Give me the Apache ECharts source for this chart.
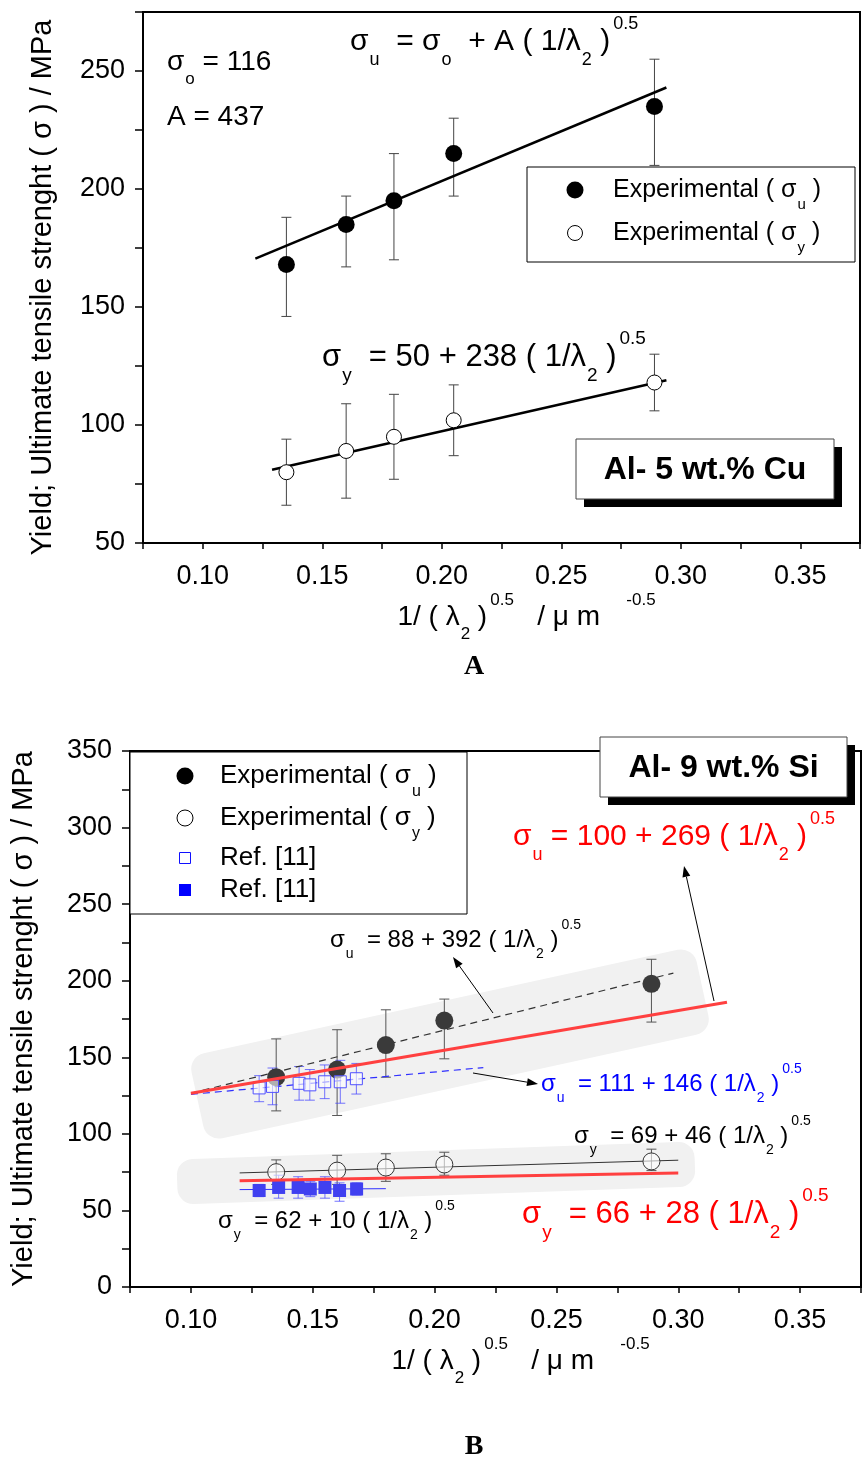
<!DOCTYPE html>
<html><head><meta charset="utf-8">
<script src="https://cdn.jsdelivr.net/npm/echarts@6/dist/echarts.min.js"></script>
<style>html,body{margin:0;padding:0;background:#fff}#c{width:864px;height:1463px}</style>
</head><body><div id="c"></div>
<script>
// ---------------- Panel A : Al- 5 wt.% Cu ----------------
const aX       = [0.135, 0.160, 0.180, 0.205, 0.289];
const aUlt     = [168, 185, 195, 215, 235];
const aUltLow  = [146, 167, 170, 197, 210];
const aUltHigh = [188, 197, 215, 230, 255];
const aYld     = [80, 89, 95, 102, 118];
const aYldLow  = [66, 69, 77, 87, 106];
const aYldHigh = [94, 109, 113, 117, 130];
const aUltFitX = [0.122, 0.294];
const aUltFitY = [170.5, 243];
const aYldFitX = [0.129, 0.294];
const aYldFitY = [81, 119];

// ---------------- Panel B : Al- 9 wt.% Si ----------------
const bX       = [0.135, 0.160, 0.180, 0.204, 0.289];
const bUlt     = [137, 142, 158, 174, 198];
const bUltLow  = [115, 112, 137, 149, 173];
const bUltHigh = [162, 168, 181, 188, 214];
const bYld     = [75, 76, 78, 80, 82];
const bYldLow  = [67, 67, 69, 73, 76];
const bYldHigh = [83, 86, 87, 88, 90];
const refUltX    = [0.128, 0.1335, 0.1444, 0.1488, 0.1549, 0.1613, 0.1679];
const refUlt     = [130, 131, 133, 132, 134, 134, 136];
const refUltLow  = [121, 119, 122, 122, 123, 120, 126];
const refUltHigh = [138, 143, 144, 142, 145, 148, 146];
const refYldX    = [0.128, 0.136, 0.144, 0.149, 0.155, 0.161, 0.168];
const refYld     = [63, 65, 65, 64, 65, 63, 64];
const refYldLow  = [59, 58, 58, 59, 58, 56, 60];
const refYldHigh = [67, 73, 72, 69, 72, 68, 68];
const expUltFitX = [0.100, 0.298]; const expUltFitY = [126.5, 205];
const redUltFitX = [0.100, 0.320]; const redUltFitY = [126.5, 186];
const refUltFitX = [0.100, 0.220]; const refUltFitY = [125.8, 143.3];
const expYldFitX = [0.120, 0.300]; const expYldFitY = [74.5, 82.8];
const redYldFitX = [0.120, 0.300]; const redYldFitY = [69.4, 74.4];
const refYldFitX = [0.120, 0.180]; const refYldFitY = [63.6, 64.2];

// ---------------- tick labels ----------------
const xLabelValues = [0.10, 0.15, 0.20, 0.25, 0.30, 0.35];
const yLabelValuesA = [50, 100, 150, 200, 250];
const yLabelValuesB = [0, 50, 100, 150, 200, 250, 300, 350];

const FONT = 'Liberation Sans';
const pts = (xs, ys) => xs.map((x, i) => [x, ys[i]]);
const errs = (xs, lo, hi) => xs.map((x, i) => [x, lo[i], hi[i]]);

function rich(size, color, fam) {
  fam = fam || FONT;
  const lh = Math.round(size * 1.3);
  const s = Math.round(size * 0.6);
  const pad = Math.round(size * 1.2);
  return {
    m:  {fontSize: size, fontFamily: fam, color: color, fill: color, lineHeight: lh, verticalAlign: 'middle'},
    sb: {fontSize: s, fontFamily: fam, color: color, fill: color, lineHeight: lh, verticalAlign: 'middle', padding: [pad, 0, 0, 1]},
    sp: {fontSize: s, fontFamily: fam, color: color, fill: color, lineHeight: lh, verticalAlign: 'middle', padding: [0, 0, pad, 3]}
  };
}

function errSeries(gi, xs, lo, hi, color, width, cap, z) {
  return {
    type: 'custom', xAxisIndex: gi, yAxisIndex: gi, z: z || 3, silent: true,
    data: errs(xs, lo, hi), encode: {x: 0, y: [1, 2]},
    renderItem: (p, api) => {
      const x = api.value(0);
      const a = api.coord([x, api.value(1)]), b = api.coord([x, api.value(2)]);
      const st = {stroke: color, lineWidth: width};
      return {type: 'group', children: [
        {type: 'line', shape: {x1: a[0], y1: a[1], x2: b[0], y2: b[1]}, style: st},
        {type: 'line', shape: {x1: a[0] - cap, y1: a[1], x2: a[0] + cap, y2: a[1]}, style: st},
        {type: 'line', shape: {x1: b[0] - cap, y1: b[1], x2: b[0] + cap, y2: b[1]}, style: st}
      ]};
    }
  };
}
function fitSeries(gi, xs, ys, color, width, type, z) {
  return {type: 'line', xAxisIndex: gi, yAxisIndex: gi, data: pts(xs, ys), symbol: 'none', silent: true,
    z: z || 3, lineStyle: {color: color, width: width, type: type || 'solid'}};
}
function dotSeries(gi, name, xs, ys, symbol, size, fill, border, bw, z) {
  return {type: 'scatter', name: name, xAxisIndex: gi, yAxisIndex: gi, data: pts(xs, ys), symbol: symbol,
    symbolSize: size, z: z || 4, itemStyle: {color: fill, borderColor: border, borderWidth: bw, opacity: 1}};
}

const xName = '{m|1/ ( λ}{sb|2}{m| )}{sp|0.5}{m|   / μ m   }{sp|-0.5}';
function xAx(gi) {
  return {type: 'value', gridIndex: gi, min: 0.075, max: 0.375, interval: 0.025,
    axisLine: {onZero: false, lineStyle: {color: '#000', width: 2}},
    axisTick: {length: 6, lineStyle: {color: '#000', width: 1.5}},
    axisLabel: {margin: 20, fontSize: 27, color: '#000', fontFamily: FONT,
      formatter: v => xLabelValues.some(t => Math.abs(t - v) < 1e-6) ? v.toFixed(2) : ''},
    splitLine: {show: false},
    name: xName, nameLocation: 'middle', nameGap: 56,
    nameTextStyle: {rich: rich(28, '#000'), padding: [0, 0, 0, 50]}};
}
function yAx(gi, min, max, labels, gap, pad) {
  return {type: 'value', gridIndex: gi, min: min, max: max, interval: 25,
    axisLine: {onZero: false, lineStyle: {color: '#000', width: 2}},
    axisTick: {length: 8, lineStyle: {color: '#000', width: 1.5}},
    axisLabel: {margin: 18, fontSize: 27, color: '#000', fontFamily: FONT,
      formatter: v => labels.indexOf(v) >= 0 ? String(v) : ''},
    splitLine: {show: false},
    name: 'Yield; Ultimate tensile strenght ( σ ) / MPa', nameLocation: 'middle', nameGap: gap,
    nameTextStyle: {fontSize: 29, fontFamily: FONT, color: '#000', padding: pad}};
}

// ---------------- graphic decorations ----------------
const G = [];
function txt(x, y, text, size, color, z, align, fam) {
  G.push({type: 'text', x: x, y: y, z: z || 50,
    style: {text: text, rich: rich(size, color, fam), fill: color, align: align || 'left', verticalAlign: 'middle'}});
}
function arrow(x1, y1, x2, y2, color, w) {
  const ang = Math.atan2(y2 - y1, x2 - x1), L = 11, W = 4;
  const bx = x2 - L * Math.cos(ang), by = y2 - L * Math.sin(ang);
  G.push({type: 'line', z: 40, shape: {x1: x1, y1: y1, x2: bx, y2: by}, style: {stroke: color, lineWidth: w}});
  G.push({type: 'polygon', z: 40, shape: {points: [[x2, y2],
    [bx + W * Math.sin(ang), by - W * Math.cos(ang)], [bx - W * Math.sin(ang), by + W * Math.cos(ang)]]},
    style: {fill: color}});
}
function band(cx, cy, w, h, deg) {
  G.push({type: 'rect', x: cx, y: cy, rotation: deg * Math.PI / 180, z: -1, silent: true,
    shape: {x: -w / 2, y: -h / 2, width: w, height: h, r: 16}, style: {fill: '#f1f1f1'}});
}
function shadowBox(x, y, w, h, text) {
  G.push({type: 'rect', z: 60, shape: {x: x + 8, y: y + 8, width: w, height: h}, style: {fill: '#000'}});
  G.push({type: 'rect', z: 61, shape: {x: x, y: y, width: w, height: h}, style: {fill: '#fff', stroke: '#444', lineWidth: 1}});
  G.push({type: 'text', z: 62, x: x + w / 2, y: y + h / 2 + 1,
    style: {text: text, fontSize: 32, fontWeight: 'bold', fontFamily: FONT, fill: '#000', align: 'center', verticalAlign: 'middle'}});
}
function legendBox(x, y, w, h) {
  G.push({type: 'rect', z: 70, shape: {x: x, y: y, width: w, height: h}, style: {fill: '#fff', stroke: '#000', lineWidth: 1}});
}

// Panel A annotations
txt(167, 62, '{m|σ}{sb|o}{m| = 116}', 28, '#000');
txt(167, 117, '{m|A = 437}', 28, '#000');
txt(350, 42, '{m|σ}{sb|u}{m|  = σ}{sb|o}{m|  + A ( 1/λ}{sb|2}{m| )}{sp|0.5}', 30, '#000');
txt(322, 357, '{m|σ}{sb|y}{m|  = 50 + 238 ( 1/λ}{sb|2}{m| )}{sp|0.5}', 31, '#000');
legendBox(527, 167, 328, 95);
G.push({type: 'circle', z: 71, shape: {cx: 575, cy: 190, r: 8.5}, style: {fill: '#000'}});
G.push({type: 'circle', z: 71, shape: {cx: 575, cy: 233, r: 7.5}, style: {fill: '#fff', stroke: '#000', lineWidth: 1}});
txt(613, 190, '{m|Experimental ( σ}{sb|u}{m| )}', 25, '#000', 72);
txt(613, 233, '{m|Experimental ( σ}{sb|y}{m| )}', 25, '#000', 72);
shadowBox(576, 439, 258, 60, 'Al- 5 wt.% Cu');
G.push({type: 'text', z: 50, x: 474, y: 667, style: {text: 'A', fontSize: 28, fontWeight: 'bold', fontFamily: 'Liberation Serif', fill: '#000', align: 'center', verticalAlign: 'middle'}});

// Panel B annotations
band(450, 1044, 517, 87, 12.3);
band(436, 1173, 518, 45, 2.0);
legendBox(130, 752, 337, 162);
G.push({type: 'circle', z: 71, shape: {cx: 185, cy: 776, r: 8.5}, style: {fill: '#000'}});
G.push({type: 'circle', z: 71, shape: {cx: 185, cy: 818, r: 8}, style: {fill: '#fff', stroke: '#000', lineWidth: 1}});
G.push({type: 'rect', z: 71, shape: {x: 179.5, y: 852.5, width: 11, height: 11}, style: {fill: '#fff', stroke: '#1010ff', lineWidth: 1}});
G.push({type: 'rect', z: 71, shape: {x: 179, y: 884, width: 12, height: 12}, style: {fill: '#0000ff'}});
txt(220, 776, '{m|Experimental ( σ}{sb|u}{m| )}', 26, '#000', 72);
txt(220, 818, '{m|Experimental ( σ}{sb|y}{m| )}', 26, '#000', 72);
txt(220, 858, '{m|Ref. [11]}', 26, '#000', 72);
txt(220, 890, '{m|Ref. [11]}', 26, '#000', 72);
shadowBox(600, 737, 247, 60, 'Al- 9 wt.% Si');
txt(513, 837, '{m|σ}{sb|u}{m| = 100 + 269 ( 1/λ}{sb|2}{m| )}{sp|0.5}', 30, '#ff0000');
txt(330, 940, '{m|σ}{sb|u}{m|  = 88 + 392 ( 1/λ}{sb|2}{m| )}{sp|0.5}', 24, '#000');
txt(541, 1084, '{m|σ}{sb|u}{m|  = 111 + 146 ( 1/λ}{sb|2}{m| )}{sp|0.5}', 24, '#0000ff');
txt(574, 1136, '{m|σ}{sb|y}{m|  = 69 + 46 ( 1/λ}{sb|2}{m| )}{sp|0.5}', 24, '#000');
txt(522, 1214, '{m|σ}{sb|y}{m|  = 66 + 28 ( 1/λ}{sb|2}{m| )}{sp|0.5}', 31, '#ff0000');
txt(218, 1221, '{m|σ}{sb|y}{m|  = 62 + 10 ( 1/λ}{sb|2}{m| )}{sp|0.5}', 24, '#000');
arrow(493, 1013, 453, 957, '#000', 1);
arrow(714, 1001, 684, 866, '#000', 1);
arrow(473, 1073, 538, 1084, '#000', 1);
G.push({type: 'text', z: 50, x: 474, y: 1447, style: {text: 'B', fontSize: 28, fontWeight: 'bold', fontFamily: 'Liberation Serif', fill: '#000', align: 'center', verticalAlign: 'middle'}});

const option = {
  animation: false,
  backgroundColor: '#fff',
  grid: [
    {left: 143, top: 12, width: 717, height: 531, show: true, borderColor: '#000', borderWidth: 2, backgroundColor: 'transparent'},
    {left: 130, top: 751, width: 732, height: 536, show: true, borderColor: '#000', borderWidth: 2, backgroundColor: 'transparent'}
  ],
  xAxis: [xAx(0), xAx(1)],
  yAxis: [yAx(0, 50, 275, yLabelValuesA, 86, [0, 20, 0, 0]), yAx(1, 0, 350, yLabelValuesB, 92, 0)],
  graphic: {elements: G},
  series: [
    // Panel A
    errSeries(0, aX, aUltLow, aUltHigh, '#444', 1, 5),
    errSeries(0, aX, aYldLow, aYldHigh, '#444', 1, 5),
    fitSeries(0, aUltFitX, aUltFitY, '#000', 2.5),
    fitSeries(0, aYldFitX, aYldFitY, '#000', 2.5),
    dotSeries(0, 'Experimental (σu) A', aX, aUlt, 'circle', 17, '#000', '#000', 0),
    dotSeries(0, 'Experimental (σy) A', aX, aYld, 'circle', 15, '#fff', '#000', 1),
    // Panel B
    errSeries(1, bX, bUltLow, bUltHigh, '#555', 1, 5),
    errSeries(1, bX, bYldLow, bYldHigh, '#555', 1, 5),
    errSeries(1, refUltX, refUltLow, refUltHigh, 'rgba(70,70,255,0.75)', 1, 5, 3),
    errSeries(1, refYldX, refYldLow, refYldHigh, 'rgba(70,70,255,0.75)', 1, 5, 3),
    fitSeries(1, expUltFitX, expUltFitY, '#333', 1.2, [7, 5]),
    fitSeries(1, refUltFitX, refUltFitY, '#3030ff', 1.2, [7, 5]),
    fitSeries(1, expYldFitX, expYldFitY, '#333', 1),
    fitSeries(1, refYldFitX, refYldFitY, '#3030ff', 1),
    dotSeries(1, 'Experimental (σu) B', bX, bUlt, 'circle', 18, '#3a3a3a', '#3a3a3a', 0),
    dotSeries(1, 'Experimental (σy) B', bX, bYld, 'circle', 17, 'rgba(255,255,255,0.6)', '#333', 1),
    dotSeries(1, 'Ref. [11] σu', refUltX, refUlt, 'rect', 12, 'rgba(255,255,255,0.6)', '#5050ff', 1, 5),
    dotSeries(1, 'Ref. [11] σy', refYldX, refYld, 'rect', 13, '#4040f0', '#4040f0', 0, 5),
    fitSeries(1, redUltFitX, redUltFitY, '#ff4040', 3, 'solid', 6),
    fitSeries(1, redYldFitX, redYldFitY, '#ff4040', 3, 'solid', 6)
  ]
};
const chart = echarts.init(document.getElementById('c'), null, {renderer: 'canvas'});
chart.setOption(option);
</script></body></html>
